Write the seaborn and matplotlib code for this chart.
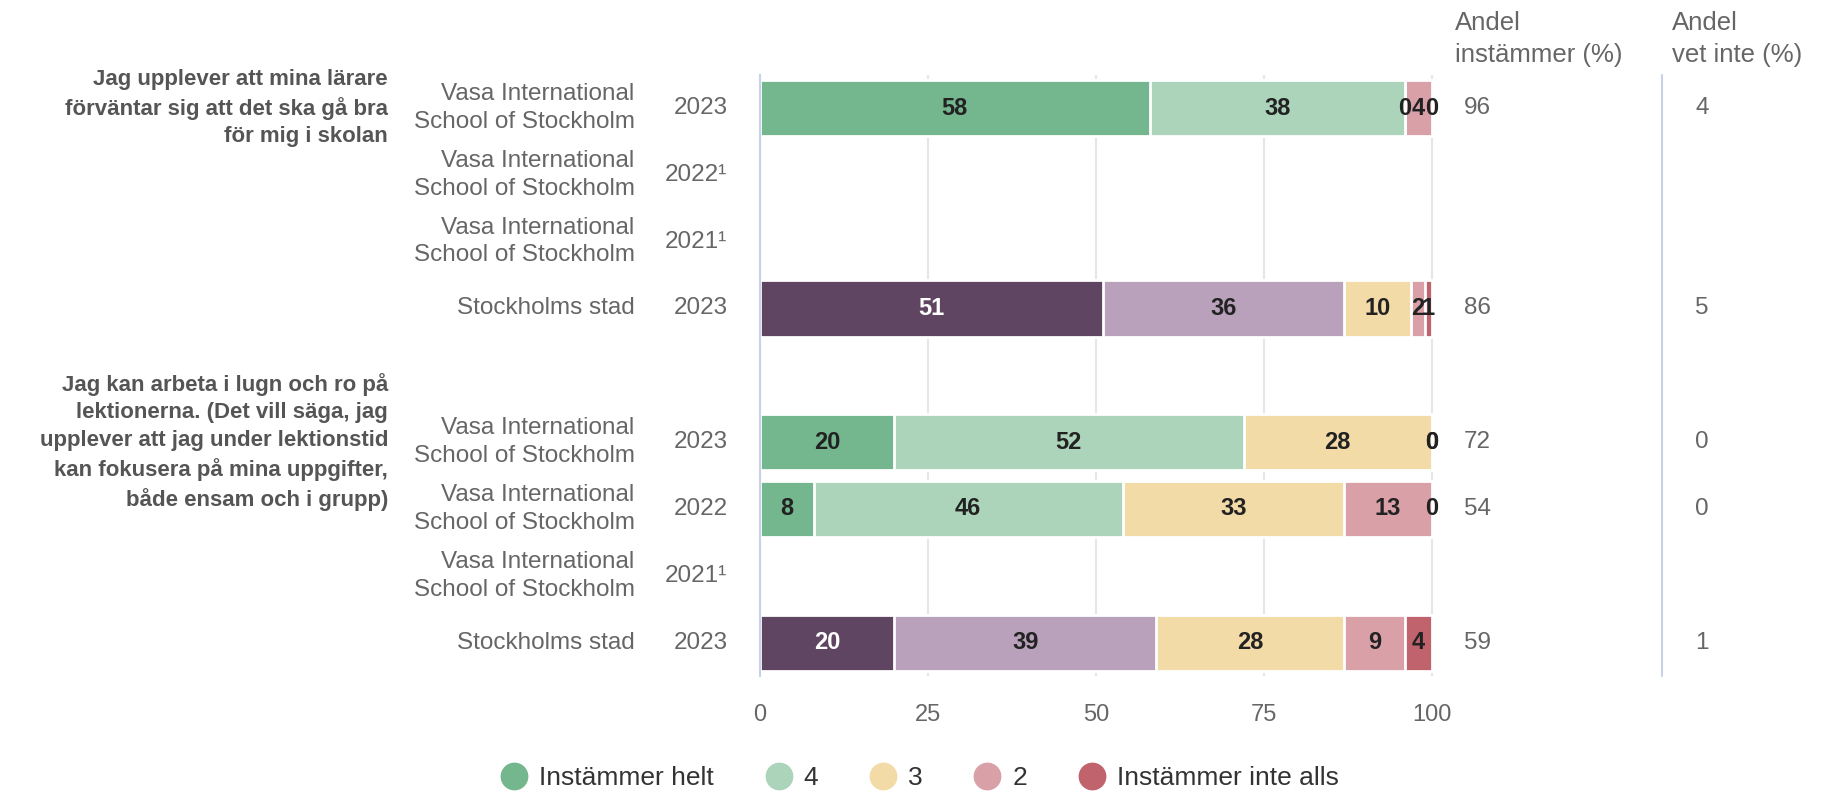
import numpy as np
import pandas as pd
import matplotlib
matplotlib.use("Agg")
import matplotlib.pyplot as plt
import matplotlib.transforms as mtransforms
from matplotlib.lines import Line2D
import seaborn as sns

# --- data -------------------------------------------------------------
questions = [
    "Jag upplever att mina lärare\nförväntar sig att det ska gå bra\nför mig i skolan",
    "Jag kan arbeta i lugn och ro på\nlektionerna. (Det vill säga, jag\nupplever att jag under lektionstid\nkan fokusera på mina uppgifter,\nbåde ensam och i grupp)",
]
question_rows = [0, 5]

vasa = "Vasa International\nSchool of Stockholm"
stad = "Stockholms stad"
row_units = [vasa, vasa, vasa, stad, "", vasa, vasa, vasa, stad]
row_years = ["2023", "2022¹", "2021¹", "2023", "", "2023", "2022", "2021¹", "2023"]
row_group = ["skola", "skola", "skola", "stad", "skola", "skola", "skola", "skola", "stad"]

nan = np.nan
helt = [58, nan, nan, 51, nan, 20, 8, nan, 20]
v4 = [38, nan, nan, 36, nan, 52, 46, nan, 39]
v3 = [0, nan, nan, 10, nan, 28, 33, nan, 28]
v2 = [4, nan, nan, 2, nan, 0, 13, nan, 9]
inte = [0, nan, nan, 1, nan, 0, 0, nan, 4]

andel_instammer = ["96", "", "", "86", "", "72", "54", "", "59"]
andel_vet_inte = ["4", "", "", "5", "", "0", "0", "", "1"]

levels = ["Instämmer helt", "4", "3", "2", "Instämmer inte alls"]

# colours
c_green, c_lgreen = "#74b78e", "#acd4ba"
c_purple, c_lpurple = "#5f4562", "#b9a1bb"
c_yellow, c_pink, c_red = "#f2dba7", "#d9a0a8", "#c1636c"
level_palettes = [
    {"skola": c_green, "stad": c_purple},
    {"skola": c_lgreen, "stad": c_lpurple},
    {"skola": c_yellow, "stad": c_yellow},
    {"skola": c_pink, "stad": c_pink},
    {"skola": c_red, "stad": c_red},
]
text_grey = "#666666"
axis_blue = "#c9d1e8"

# --- frame ------------------------------------------------------------
row_ids = [f"r{i}" for i in range(len(row_units))]
df = pd.DataFrame({"row": row_ids, "group": row_group})
vals = np.array([helt, v4, v3, v2, inte], dtype=float)
starts = np.vstack([np.zeros(vals.shape[1]), np.nancumsum(vals, axis=0)[:-1]])
cums = np.nancumsum(vals, axis=0)
for i in range(len(levels)):
    df[f"cum{i}"] = np.where(np.isnan(vals[0]), np.nan, cums[i])

sns.set_style("white")
plt.rcParams["font.family"] = ["Liberation Sans", "DejaVu Sans"]

fig = plt.figure(figsize=(18.25, 7.92), dpi=100)
ax_left, ax_bottom, ax_top = 760 / 1825, 1 - 676 / 792, 1 - 74.6 / 792
xmax = 100.4
ax = fig.add_axes([ax_left, ax_bottom, 671.6 / 1825 * xmax / 100, ax_top - ax_bottom])

# stacked bars: draw cumulative totals from the last level backwards
for i in reversed(range(len(levels))):
    sns.barplot(data=df, x=f"cum{i}", y="row", hue="group", order=row_ids,
                palette=level_palettes[i], orient="h", dodge=False, legend=False,
                width=0.84, saturation=1, errorbar=None,
                edgecolor="white", linewidth=2, ax=ax)

# segment labels
for r in range(vals.shape[1]):
    for i in range(len(levels)):
        v = vals[i, r]
        if np.isnan(v):
            continue
        dark = i == 0 and row_group[r] == "stad"
        ax.text(starts[i, r] + v / 2, r, f"{int(v)}", ha="center", va="center",
                fontsize=17, fontweight="bold",
                color="white" if dark else "#222222")

ax.set_xlim(0, xmax)
ax.set_ylim(len(row_ids) - 0.5, -0.5)
ax.set_xticks([0, 25, 50, 75, 100])
ax.set_xticklabels(["0", "25", "50", "75", "100"])
ax.set_xlabel("")
ax.set_ylabel("")
ax.grid(axis="x", color="#e6e6e6", linewidth=1.5)
ax.grid(axis="y", visible=False)
ax.set_axisbelow(True)
for s in ["top", "right", "bottom"]:
    ax.spines[s].set_visible(False)
ax.spines["left"].set_color(axis_blue)
ax.spines["left"].set_linewidth(1.5)
ax.tick_params(axis="x", length=0, pad=20, labelsize=17, labelcolor=text_grey)
ax.tick_params(axis="y", which="major", length=0, labelleft=False)
ax.set_yticks(np.arange(-0.5, len(row_ids), 1), minor=True)
ax.tick_params(axis="y", which="minor", length=10, width=1.5, color=axis_blue,
               direction="out")

# row labels
trans = mtransforms.blended_transform_factory(fig.transFigure, ax.transData)
for r in range(len(row_ids)):
    if row_units[r]:
        ax.text(634.5 / 1825, r, row_units[r], transform=trans, ha="right",
                va="center", fontsize=17.5, color=text_grey, linespacing=1.33)
    if row_years[r]:
        ax.text(727.5 / 1825, r, row_years[r], transform=trans, ha="right",
                va="center", fontsize=17.5, color=text_grey)
    if andel_instammer[r]:
        ax.text(1464 / 1825, r, andel_instammer[r], transform=trans, ha="left",
                va="center", fontsize=17.5, color=text_grey)
    if andel_vet_inte[r]:
        ax.text(1702 / 1825, r, andel_vet_inte[r], transform=trans, ha="center",
                va="center", fontsize=17.5, color=text_grey)

for q, r in zip(questions, question_rows):
    ax.text(388 / 1825, r, q, transform=trans, ha="right", va="center",
            fontsize=16, fontweight="bold", color="#555555", linespacing=1.4)

# right column headers
fig.text(1455 / 1825, 1 - 39 / 792, "Andel\ninstämmer (%)", ha="left", va="center",
         fontsize=18.5, color=text_grey, linespacing=1.38)
fig.text(1672 / 1825, 1 - 39 / 792, "Andel\nvet inte (%)", ha="left", va="center",
         fontsize=18.5, color=text_grey, linespacing=1.38)
fig.add_artist(Line2D([1662 / 1825, 1662 / 1825], [ax_bottom, ax_top],
                      transform=fig.transFigure, color=axis_blue, linewidth=1.5))

# legend
legend_colors = [c_green, c_lgreen, c_yellow, c_pink, c_red]
handles = [Line2D([], [], marker="o", linestyle="", markersize=19,
                  markerfacecolor=c, markeredgecolor=c) for c in legend_colors]
leg = fig.legend(handles, levels, loc="center", bbox_to_anchor=(0.504, 1 - 778 / 792),
                 ncol=5, frameon=False, fontsize=19, handlelength=1,
                 handletextpad=0.45, columnspacing=1.95)
for t in leg.get_texts():
    t.set_color("#333333")

fig.savefig("out.png", dpi=100, facecolor="white")
